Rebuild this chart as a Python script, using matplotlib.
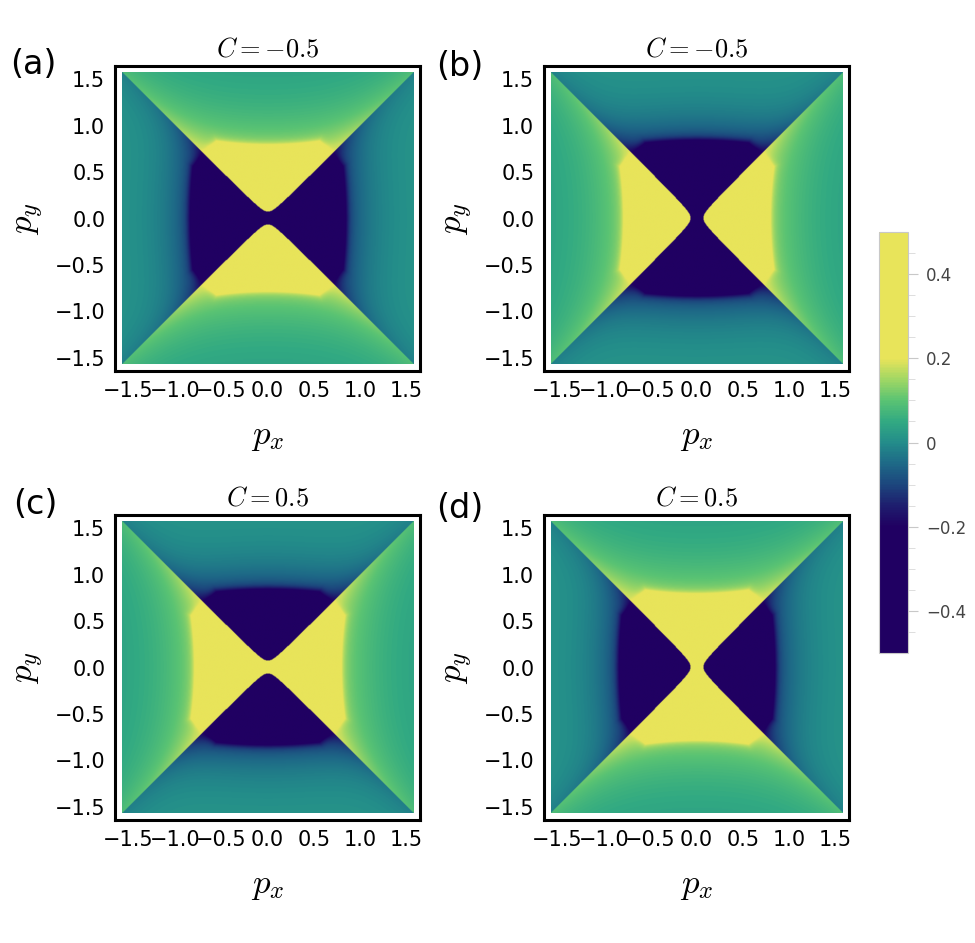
import numpy as np
import matplotlib
matplotlib.use("Agg")
import matplotlib.pyplot as plt
from matplotlib.colors import LinearSegmentedColormap, Normalize
from matplotlib.cm import ScalarMappable
from matplotlib.ticker import FixedLocator, FuncFormatter, FixedFormatter

plt.rcParams["mathtext.fontset"] = "cm"
plt.rcParams["font.family"] = "DejaVu Sans"

# panels: label, title, positive-sector axis, which tips are split (+1 yellow, -1 dark)
panel_labels = ["(a)", "(b)", "(c)", "(d)"]
panel_titles = [r"$C=-0.5$", r"$C=-0.5$", r"$C=0.5$", r"$C=0.5$"]
panel_axis = ["y", "x", "x", "y"]
panel_gap = [1, 1, -1, -1]

ticks = [-1.5, -1.0, -0.5, 0.0, 0.5, 1.0, 1.5]
cbar_ticks = [-0.4, -0.2, 0.0, 0.2, 0.4]
cbar_labels = ["\u22120.4", "\u22120.2", "0", "0.2", "0.4"]
cbar_minor = [-0.45, -0.35, -0.3, -0.25, -0.15, -0.1, -0.05,
              0.05, 0.1, 0.15, 0.25, 0.3, 0.35, 0.45]

# field shape
gap_delta = 0.0047          # half gap at the centre ~0.068^2
pos_edge, pos_bend = 0.73, 0.12   # yellow sector boundary
neg_edge, neg_bend = 0.79, 0.10   # dark sector boundary
corner_cut, cut_w = 1.29, 0.045   # |px|+|py| where the bow-tie corners end
pos_amp, pos_len = 0.13, 0.45
neg_amp, neg_len = 0.15, 0.28
glow_pos, glow_neg, glow_w = 0.03, 0.035, 0.2
edge_w = 0.03
offset = 0.02
core = 0.6

# colour stops from the colour bar
cmap_pos = [0.0, 0.3, 0.35, 0.4, 0.45, 0.5, 0.55, 0.6, 0.65, 0.7, 1.0]
cmap_col = ["#200062", "#200062", "#1e1e6e", "#1c467d", "#1e6987", "#238c8a",
            "#32aa82", "#5ac373", "#a0d764", "#e8e45a", "#e8e45a"]
cmap = LinearSegmentedColormap.from_list("bgy", list(zip(cmap_pos, cmap_col)))
norm = Normalize(-0.5, 0.5)


def sig(z):
    return 0.5 * (1 + np.tanh(z / 2))


def field(px, py, axis, gap):
    P = np.abs(py) if axis == "y" else np.abs(px)
    Q = np.abs(px) if axis == "y" else np.abs(py)
    u = P**2 - Q**2
    r2 = P**2 + Q**2
    t = np.abs(u - gap * gap_delta) / (r2 + 1e-4)
    dcut = (P + Q - corner_cut) / cut_w
    dpos = P - (pos_edge + pos_bend * Q**2)
    dneg = Q - (neg_edge - neg_bend * P**2)
    in_pos = sig(-np.maximum(dpos / edge_w, dcut))
    in_neg = sig(-np.maximum(dneg / edge_w, dcut))
    pos = (offset + pos_amp * np.exp(-np.clip(dpos, 0, None) / pos_len)
           + glow_pos * np.exp(-t / glow_w) + core * in_pos)
    neg = (offset - neg_amp * np.exp(-np.clip(dneg, 0, None) / neg_len)
           - glow_neg * np.exp(-t / glow_w) - core * in_neg)
    return np.where(u - gap * gap_delta > 0, pos, neg)


p = np.linspace(-np.pi / 2, np.pi / 2, 601)
PX, PY = np.meshgrid(p, p)

fig = plt.figure(figsize=(9.75, 9.43), dpi=100)
W, H = 975.0, 943.0
frames = [(115, 66), (544, 66), (115, 515), (544, 515)]
label_pos = [(10, 64), (436, 66), (13, 505), (436, 508)]
fw, fh = 305, 305
lim = 1.645

fmt = FuncFormatter(lambda v, _: f"{v:.1f}".replace("-", "\u2212"))

for i in range(4):
    x0, y0 = frames[i]
    ax = fig.add_axes([x0 / W, 1 - (y0 + fh) / H, fw / W, fh / H])
    Z = field(PX, PY, panel_axis[i], panel_gap[i])
    ax.imshow(Z, extent=[-np.pi / 2, np.pi / 2, -np.pi / 2, np.pi / 2],
              origin="lower", cmap=cmap, norm=norm, interpolation="bilinear")
    ax.set_xlim(-lim, lim)
    ax.set_ylim(-lim, lim)
    ax.set_aspect("auto")
    ax.xaxis.set_major_locator(FixedLocator(ticks))
    ax.yaxis.set_major_locator(FixedLocator(ticks))
    ax.xaxis.set_major_formatter(fmt)
    ax.yaxis.set_major_formatter(fmt)
    ax.tick_params(length=0, labelsize=15, pad=7)
    for sp in ax.spines.values():
        sp.set_linewidth(2.2)
    ax.set_xlabel(r"$p_x$", fontsize=25, labelpad=13)
    ax.set_ylabel(r"$p_y$", fontsize=25, labelpad=6)
    ax.set_title(panel_titles[i], fontsize=19, pad=7)
    lx, ly = label_pos[i]
    fig.text(lx / W, 1 - ly / H, panel_labels[i], fontsize=24,
             ha="left", va="center")

cax = fig.add_axes([879 / W, 1 - 653 / H, 29 / W, 421 / H])
cb = fig.colorbar(ScalarMappable(norm=norm, cmap=cmap), cax=cax)
cb.outline.set_edgecolor("#c8c8c8")
cb.outline.set_linewidth(0.8)
cax.yaxis.set_major_locator(FixedLocator(cbar_ticks))
cax.yaxis.set_major_formatter(FixedFormatter(cbar_labels))
cax.yaxis.set_minor_locator(FixedLocator(cbar_minor))
cax.tick_params(which="major", length=7, color="#c8c8c8", labelsize=12,
                labelcolor="#444444", pad=6)
cax.tick_params(which="minor", length=5, color="#d8d8d8")

fig.savefig("out.png", dpi=100)
